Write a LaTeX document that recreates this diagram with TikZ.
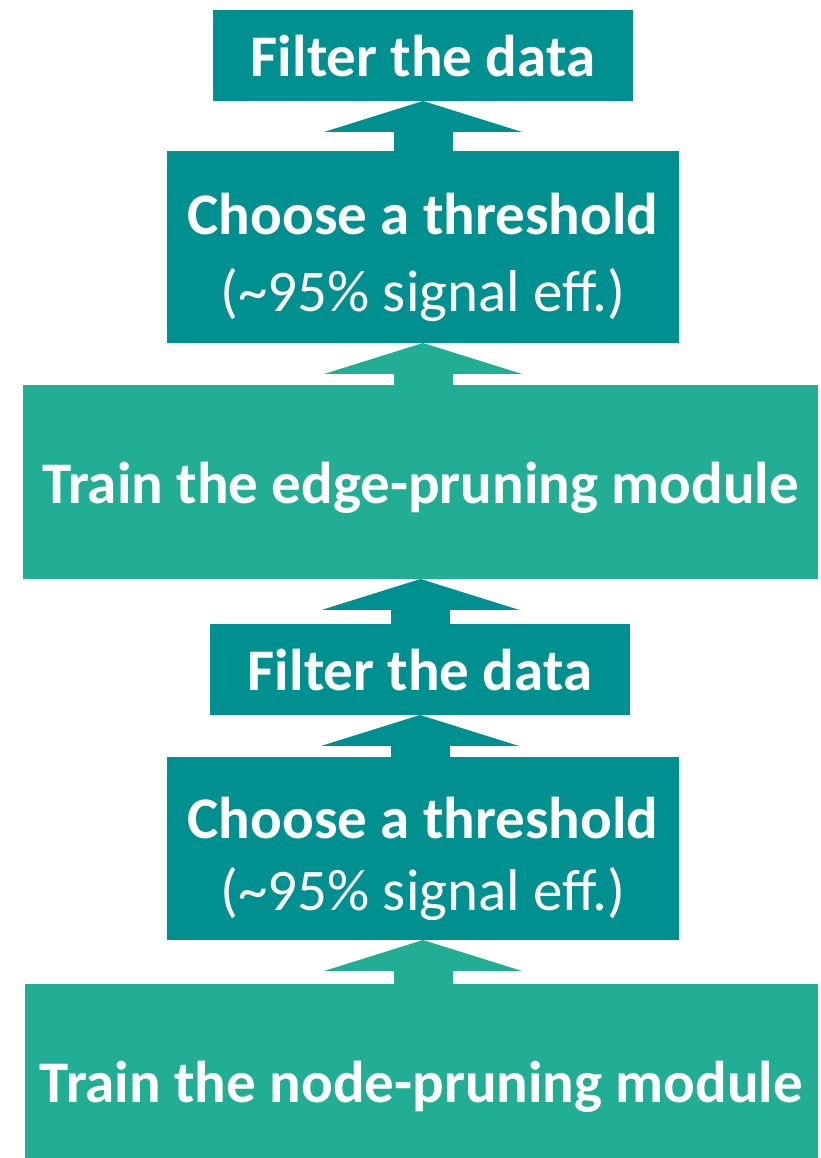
\documentclass[tikz,border=0pt]{standalone}
\usepackage{fontspec}
\setmainfont{Carlito}
\usetikzlibrary{calc}
\definecolor{tealdark}{RGB}{0,144,143}
\definecolor{teallight}{RGB}{33,174,148}
\tikzstyle{stage}=[rectangle,inner sep=0pt,outer sep=0pt,text=white,align=center,font=\fontsize{59}{77}\selectfont]
\tikzstyle{oneline}=[text height=43pt,text depth=0pt]
\tikzstyle{darkstage}=[stage,fill=tealdark]
\tikzstyle{lightstage}=[stage,fill=teallight]
\newcommand{\toprow}{\rule{0pt}{62pt}}

\begin{document}
\begin{tikzpicture}[x=1pt,y=1pt]
    \useasboundingbox (0,0) rectangle (821,1158);
    \node[darkstage,oneline,minimum width=420,minimum height=91] (filterB) at (423,1102.5) {\textbf{Filter the data}};
    \node[darkstage,minimum width=512,minimum height=192] (threshB) at (423,911) {\toprow\textbf{Choose a threshold}\\(\textasciitilde95\% signal eff.)};
    \node[lightstage,oneline,minimum width=795,minimum height=194] (trainEdge) at (420.5,676) {\textbf{Train the edge-pruning module}};
    \node[darkstage,oneline,minimum width=420,minimum height=91] (filterA) at (420,488.5) {\textbf{Filter the data}};
    \node[darkstage,minimum width=512,minimum height=183] (threshA) at (423,309.5) {\toprow\textbf{Choose a threshold}\\[-5pt](\textasciitilde95\% signal eff.)};
    \node[lightstage,oneline,minimum width=793,minimum height=194] (trainNode) at (421.5,77) {\textbf{Train the node-pruning module}};
    % block arrows, coloured as the stage they leave
    \foreach \lo/\up/\col in {threshB/filterB/tealdark, trainEdge/threshB/teallight, filterA/trainEdge/tealdark, threshA/filterA/tealdark, trainNode/threshA/teallight}{
        \fill[\col] ($(\up.south)+(-29.5,-31)$) rectangle ([xshift=29.5pt]\up.south |- \lo.north);
        \fill[\col] (\up.south) -- ++(-99,-31) -- ++(198,0) -- cycle;
    }
\end{tikzpicture}
\end{document}
